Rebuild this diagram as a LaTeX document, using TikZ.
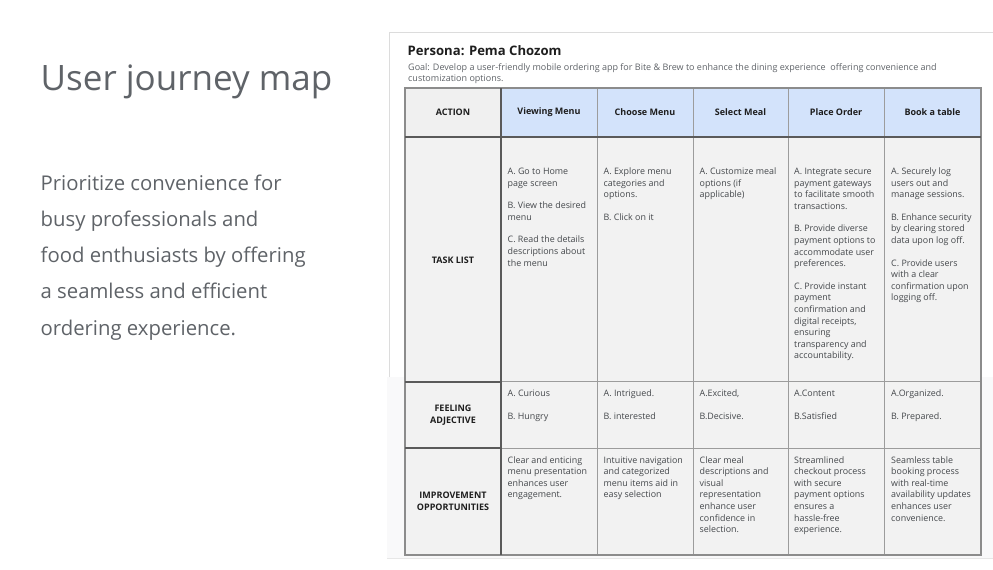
\documentclass[tikz,border=0pt]{standalone}
\usepackage{fontspec}
\setmainfont{Open Sans}
\newfontfamily\osans{Open Sans}
\definecolor{txtgray}{HTML}{5F6368}
\definecolor{hdrbg}{HTML}{D3E3FB}
\definecolor{actbg}{HTML}{F0F0F0}
\definecolor{cellbg}{HTML}{F2F2F2}
\definecolor{thinline}{HTML}{9C9C9C}
\definecolor{thickline}{HTML}{5A5A5A}
\definecolor{celltext}{HTML}{45484C}
\definecolor{labeltext}{HTML}{1E1E1E}
\definecolor{framebg}{HTML}{F9F9FA}
\definecolor{frameline}{HTML}{DCDCDC}
\newcommand{\cellbox}[1]{\begin{tabular}[t]{@{}l@{}}#1\end{tabular}}
\tikzset{
  bigtitle/.style={anchor=base west, inner sep=0, text=txtgray, font=\osans\fontsize{35}{40}\selectfont},
  desc/.style={anchor=base west, inner sep=0, text=txtgray, font=\osans\fontsize{20.3}{22}\selectfont},
  persona/.style={anchor=base west, inner sep=0, text=labeltext, font=\bfseries\fontsize{13.1}{15}\selectfont},
  goal/.style={anchor=base west, inner sep=0, text=txtgray, font=\fontsize{9}{10.5}\selectfont},
  hdr/.style={inner sep=0, text=labeltext, font=\bfseries\fontsize{9}{10}\selectfont},
  rowlabel/.style={inner sep=0, align=center, text=labeltext, font=\bfseries\fontsize{9}{11.5}\selectfont},
  celltxt/.style={anchor=base west, inner sep=0, text=celltext, font=\fontsize{8.9}{11.6}\selectfont},
  thin/.style={draw=thinline, line width=1pt},
  thick/.style={draw=thickline, line width=2pt}
}
\begin{document}
\begin{tikzpicture}[x=1pt,y=-1pt]
\useasboundingbox (0,0) rectangle (993,570);
\fill[white] (0,0) rectangle (993,570);
% screenshot frame
\fill[framebg] (387,377) rectangle (993,558);
\draw[frameline, line width=0.8pt] (389,377) -- (389,32) -- (993,32);
\draw[frameline!70, line width=0.8pt] (387,558) -- (993,558);
% left text
\node[bigtitle] (title) at (40.5,90) {User journey map};
\node[desc] (d1) at (40.5,190) {Prioritize convenience for};
\node[desc] (d2) at (40.5,226.3) {busy professionals and};
\node[desc] (d3) at (40.5,262.6) {food enthusiasts by offering};
\node[desc] (d4) at (40.5,298.9) {a seamless and efficient};
\node[desc] (d5) at (40.5,335.2) {ordering experience.};
% persona
\node[persona] (persona) at (407.5,55) {Persona: Pema Chozom};
\node[goal] (goal1) at (408,70.5) {Goal: Develop a user-friendly mobile ordering app for Bite \& Brew to enhance the dining experience\ \ offering convenience and};
\node[goal] (goal2) at (408,81) {customization options.};
% table fills
\fill[actbg] (405,88) rectangle (501,137);
\fill[hdrbg] (501,88) rectangle (981,137);
\fill[cellbg] (405,137) rectangle (981,555);
% thin lines
\foreach \x in {597,693,788,884} \draw[thin] (\x,88) -- (\x,555);
\foreach \y in {381.5,448} \draw[thin] (501,\y) -- (981,\y);
\draw[draw=thinline!90!black, line width=1.2pt] (405,88) rectangle (981,555);
% thick lines
\draw[thick] (501,88) -- (501,555);
\draw[thick] (405,137) -- (981,137);
\draw[thick] (405,381.5) -- (501,381.5);
\draw[thick] (405,448) -- (501,448);
% header
\node[hdr] (hact) at (453,112.5) {ACTION};
\node[hdr] (h1) at (549,112.5) {Viewing Menu};
\node[hdr] (h2) at (645,112.5) {Choose Menu};
\node[hdr] (h3) at (740.5,112.5) {Select Meal};
\node[hdr] (h4) at (836,112.5) {Place Order};
\node[hdr] (h5) at (932.5,112.5) {Book a table};
% row labels
\node[rowlabel] (ltask) at (453,260) {TASK LIST};
\node[rowlabel] (lfeel) at (453,415) {FEELING\\ADJECTIVE};
\node[rowlabel] (limp) at (453,501.5) {IMPROVEMENT\\OPPORTUNITIES};
% task list
\node[celltxt] (t1) at (507.5,174.5) {\cellbox{A. Go to Home\\page screen\\[11pt]B. View the desired\\menu\\[11pt]C. Read the details\\descriptions about\\the menu}};
\node[celltxt] (t2) at (603.5,174.5) {\cellbox{A. Explore menu\\categories and\\options.\\[11pt]B. Click on it}};
\node[celltxt] (t3) at (699.5,174.5) {\cellbox{A. Customize meal\\options (if\\applicable)}};
\node[celltxt] (t4) at (794,174.5) {\cellbox{A. Integrate secure\\payment gateways\\to facilitate smooth\\transactions.\\[11pt]B. Provide diverse\\payment options to\\accommodate user\\preferences.\\[11pt]C. Provide instant\\payment\\confirmation and\\digital receipts,\\ensuring\\transparency and\\accountability.}};
\node[celltxt] (t5) at (891,174.5) {\cellbox{A. Securely log\\users out and\\manage sessions.\\[11pt]B. Enhance security\\by clearing stored\\data upon log off.\\[11pt]C. Provide users\\with a clear\\confirmation upon\\logging off.}};
% feeling
\node[celltxt] (f1) at (507.5,396.3) {\cellbox{A. Curious\\[11.7pt]B. Hungry}};
\node[celltxt] (f2) at (603.5,396.3) {\cellbox{A. Intrigued.\\[11.7pt]B. interested}};
\node[celltxt] (f3) at (699.5,396.3) {\cellbox{A.Excited,\\[11.7pt]B.Decisive.}};
\node[celltxt] (f4) at (794,396.3) {\cellbox{A.Content\\[11.7pt]B.Satisfied}};
\node[celltxt] (f5) at (891,396.3) {\cellbox{A.Organized.\\[11.7pt]B. Prepared.}};
% improvement
\node[celltxt] (i1) at (507.5,463) {\cellbox{Clear and enticing\\menu presentation\\enhances user\\engagement.}};
\node[celltxt] (i2) at (603.5,463) {\cellbox{Intuitive navigation\\and categorized\\menu items aid in\\easy selection}};
\node[celltxt] (i3) at (699.5,463) {\cellbox{Clear meal\\descriptions and\\visual\\representation\\enhance user\\confidence in\\selection.}};
\node[celltxt] (i4) at (794,463) {\cellbox{Streamlined\\checkout process\\with secure\\payment options\\ensures a\\hassle-free\\experience.}};
\node[celltxt] (i5) at (891,463) {\cellbox{Seamless table\\booking process\\with real-time\\availability updates\\enhances user\\convenience.}};
\end{tikzpicture}
\end{document}
